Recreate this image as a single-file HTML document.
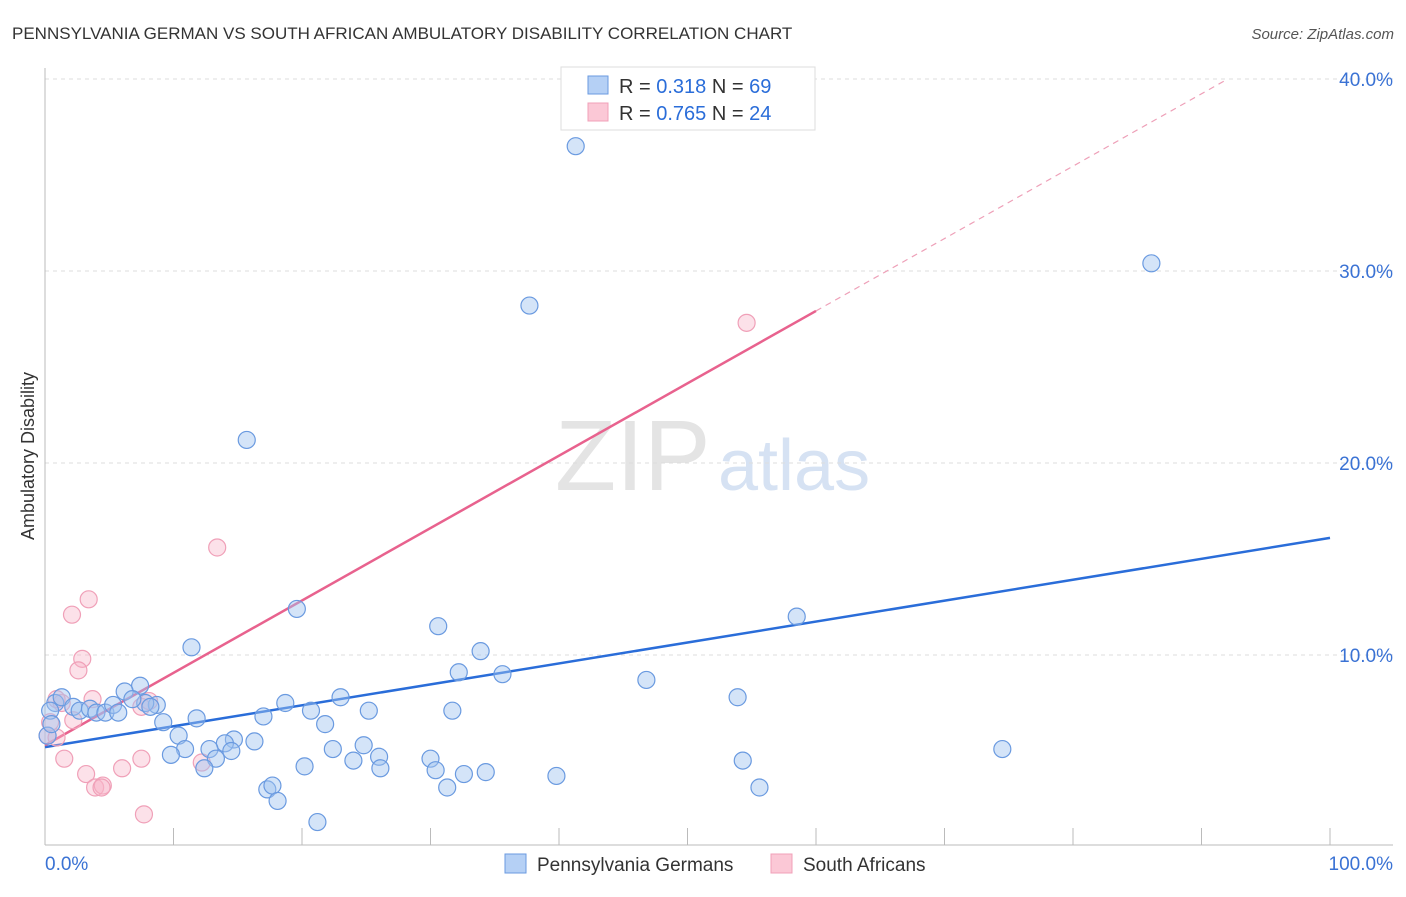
<!DOCTYPE html>
<html><head><meta charset="utf-8"><style>
body{margin:0;background:#fff;font-family:"Liberation Sans",sans-serif;}
svg text{font-family:"Liberation Sans",sans-serif;}
</style></head><body>
<svg id="chart" width="1406" height="892">
<text x="12" y="39" font-size="17" fill="#333">PENNSYLVANIA GERMAN VS SOUTH AFRICAN AMBULATORY DISABILITY CORRELATION CHART</text>
<text x="1394" y="39" font-size="15" fill="#555" font-style="italic" text-anchor="end">Source: ZipAtlas.com</text>
<text x="34" y="456" font-size="18" fill="#333" text-anchor="middle" transform="rotate(-90 34 456)">Ambulatory Disability</text>
<text x="555" y="490" font-size="100" fill="#e4e4e4" font-family="Liberation Serif">ZIP</text>
<text x="718" y="490" font-size="72" fill="#d6e2f3">atlas</text>
<g id="grid"></g>
<g id="axes"></g>
<g id="lines"></g>
<g id="pts"></g>
<g>
<rect x="561" y="67" width="254" height="63" fill="#fff" stroke="#ddd"/>
<rect x="588" y="76" width="20" height="18" fill="#b5d0f5" stroke="#6a9ae0"/>
<text x="619" y="93" font-size="20" fill="#333">R = <tspan fill="#2a6dd9">0.318</tspan>   N = <tspan fill="#2a6dd9">69</tspan></text>
<rect x="588" y="103" width="20" height="18" fill="#fbc8d6" stroke="#f0a0b8"/>
<text x="619" y="120" font-size="20" fill="#333">R = <tspan fill="#2a6dd9">0.765</tspan>   N = <tspan fill="#2a6dd9">24</tspan></text>
</g>
<g>
<rect x="505" y="854" width="21" height="19" fill="#b5d0f5" stroke="#6a9ae0"/>
<text x="537" y="871" font-size="19" fill="#333">Pennsylvania Germans</text>
<rect x="771" y="854" width="21" height="19" fill="#fbc8d6" stroke="#f0a0b8"/>
<text x="803" y="871" font-size="19" fill="#333">South Africans</text>
</g>
</svg>
<script>
const yTicks=[10,20,30,40];
const yTickLabels=["10.0%","20.0%","30.0%","40.0%"];
const xTickLabels=["0.0%","100.0%"];
const blueX=[41.3,86.1,37.7,15.7,19.6,58.5,30.6,11.4,33.9,32.2,35.6,46.8,53.9,7.4,6.2,8.7,7.8,0.8,1.3,2.2,2.7,3.5,4.0,4.7,5.3,5.7,6.8,8.2,18.7,23.0,20.7,25.2,31.7,11.8,17.0,9.2,21.8,10.4,16.3,14.7,14.0,12.8,10.9,14.5,9.8,13.3,12.4,22.4,24.8,24.0,26.0,30.0,20.2,26.1,30.4,32.6,34.3,39.8,54.3,74.5,17.3,17.7,18.1,31.3,55.6,21.2,0.4,0.2,0.5];
const blueY=[36.5,30.4,28.2,21.2,12.4,12.0,11.5,10.4,10.2,9.1,9.0,8.7,7.8,8.4,8.1,7.4,7.5,7.5,7.8,7.3,7.1,7.2,7.0,7.0,7.4,7.0,7.7,7.3,7.5,7.8,7.1,7.1,7.1,6.7,6.8,6.5,6.4,5.8,5.5,5.6,5.4,5.1,5.1,5.0,4.8,4.6,4.1,5.1,5.3,4.5,4.7,4.6,4.2,4.1,4.0,3.8,3.9,3.7,4.5,5.1,3.0,3.2,2.4,3.1,3.1,1.3,7.1,5.8,6.4];
const pinkX=[54.6,13.4,3.4,2.1,2.9,2.6,3.7,1.3,0.9,7.5,8.1,2.2,0.4,0.2,0.9,1.5,3.2,6.0,7.5,3.9,4.5,4.4,7.7,12.2];
const pinkY=[27.3,15.6,12.9,12.1,9.8,9.2,7.7,7.5,7.7,7.3,7.6,6.6,6.5,5.8,5.7,4.6,3.8,4.1,4.6,3.1,3.2,3.1,1.7,4.4];
const blueFit=[5.2,16.1];
const pinkFit=[5.3,0.377];
const NS="http://www.w3.org/2000/svg";
const X=v=>45+v*12.85, Y=v=>847-v*19.2;
function mk(p,t,a){const e=document.createElementNS(NS,t);for(const k in a)e.setAttribute(k,a[k]);p.appendChild(e);return e;}
const grid=document.getElementById('grid'),axes=document.getElementById('axes'),lines=document.getElementById('lines'),pts=document.getElementById('pts');
yTicks.forEach((t,i)=>{
 const l=mk(grid,'line',{x1:45,x2:1393,y1:Y(t),y2:Y(t),stroke:'#ddd','stroke-dasharray':'4,4'});
 
 
 const tx=mk(grid,'text',{x:1393,y:Y(t)+7,'font-size':19,fill:'#3a72d4','text-anchor':'end'});
 tx.textContent=yTickLabels[i];
 
 
});
const ya=mk(axes,'line',{x1:45,x2:45,y1:68,y2:845,stroke:'#bbb'});


const xa=mk(axes,'line',{x1:45,x2:1393,y1:845,y2:845,stroke:'#bbb'});


for(let i=1;i<=10;i++){
 const tk=mk(axes,'line',{x1:X(i*10),x2:X(i*10),y1:828,y2:845,stroke:'#bbb'});
 
 
}
[[0,'start',45],[100,'end',1393]].forEach((d,i)=>{
 const tx=mk(axes,'text',{x:d[2],y:870,'font-size':19,fill:'#3a72d4','text-anchor':d[1]});
 tx.textContent=xTickLabels[i];
 
 
});
function drawPts(xs,ys,fill,stroke,name){
 xs.forEach((x,i)=>{
  const c=mk(pts,'circle',{cx:X(x),cy:Y(ys[i]),r:8.5,fill:fill,stroke:stroke,'stroke-width':1.2});
  
  
 });
}
drawPts(pinkX,pinkY,'rgba(248,180,200,0.4)','#f0a0b8','south-african-point');
drawPts(blueX,blueY,'rgba(160,195,240,0.45)','#6a9ae0','pennsylvania-german-point');
const bl=mk(lines,'line',{x1:X(0),y1:Y(blueFit[0]),x2:X(100),y2:Y(blueFit[1]),stroke:'#2a6dd9','stroke-width':2.5});


const pl=mk(lines,'line',{x1:X(0),y1:Y(pinkFit[0]),x2:X(60),y2:Y(pinkFit[0]+pinkFit[1]*60),stroke:'#e8628e','stroke-width':2.5});


const xe=(40-pinkFit[0])/pinkFit[1];
const pd=mk(lines,'line',{x1:X(60),y1:Y(pinkFit[0]+pinkFit[1]*60),x2:X(xe),y2:Y(40),stroke:'#eea0b8','stroke-width':1.2,'stroke-dasharray':'6,5'});


</script>
</body></html>
